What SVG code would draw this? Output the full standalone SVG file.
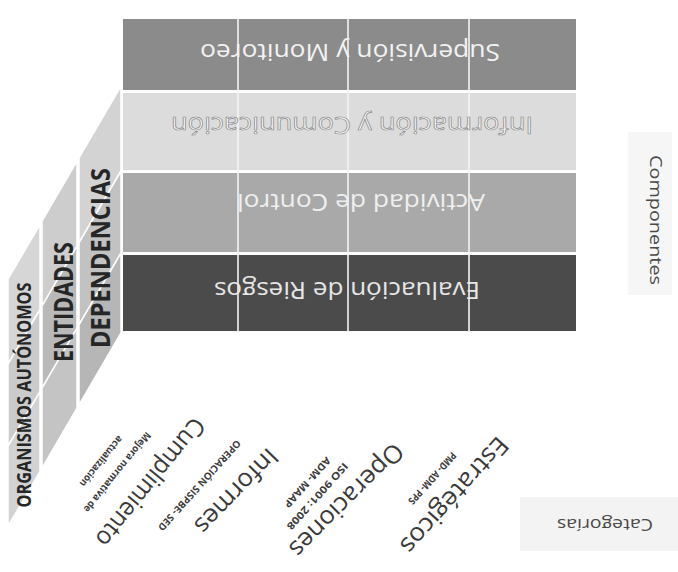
<svg xmlns="http://www.w3.org/2000/svg" width="678" height="572" viewBox="0 0 678 572">
<style>
.band{stroke:#ffffff;stroke-width:2}
.side{stroke:#ffffff;stroke-width:1.5}
.vline{stroke:#f4f4f4;stroke-width:1.6}
.comp{font-family:"Open Sans","Liberation Sans",sans-serif;font-size:24px;text-anchor:middle}
.ent{font-family:"Open Sans","Liberation Sans",sans-serif;font-weight:bold;text-anchor:middle;fill:#262626}
.cat{font-family:"Open Sans","Liberation Sans",sans-serif;font-size:25px;text-anchor:middle;fill:#3a3a3a}
.sub{font-family:"Open Sans","Liberation Sans",sans-serif;font-size:10px;font-weight:bold;text-anchor:middle;fill:#3c3c3c}
.axis{font-family:"Open Sans","Liberation Sans",sans-serif;font-size:16px;text-anchor:middle;fill:#4a4a4a}
</style>
<rect x="0" y="0" width="678" height="572" fill="#ffffff"/>

<g id="front-face">
  <rect class="band" x="122" y="18" width="455" height="73" fill="#8b8b8b"/>
  <rect class="band" x="122" y="92" width="455" height="79" fill="#dcdcdc"/>
  <rect class="band" x="122" y="172" width="455" height="81" fill="#a9a9a9"/>
  <rect class="band" x="122" y="254" width="455" height="78" fill="#4b4b4b"/>
  <line class="vline" x1="238" y1="18" x2="238" y2="332"/>
  <line class="vline" x1="348" y1="18" x2="348" y2="332"/>
  <line class="vline" x1="469" y1="18" x2="469" y2="332"/>
</g>

<g id="comp-supervision">
  <text class="comp" x="350" y="60" fill="#f2f2f2" transform="rotate(180 350 52)" textLength="300" lengthAdjust="spacingAndGlyphs">Supervisión y Monitoreo</text>
</g>
<g id="comp-informacion">
  <text class="comp" x="352" y="133" fill="#f7f7f7" stroke="#8a8a8a" stroke-width="0.7" transform="rotate(180 352 125)" textLength="362" lengthAdjust="spacingAndGlyphs">Información y Comunicación</text>
</g>
<g id="comp-actividad">
  <text class="comp" x="361" y="210" fill="#efefef" transform="rotate(180 361 202)" textLength="248" lengthAdjust="spacingAndGlyphs">Actividad de Control</text>
</g>
<g id="comp-evaluacion">
  <text class="comp" x="347" y="298" fill="#e6e6e6" transform="rotate(180 347 290)" textLength="266" lengthAdjust="spacingAndGlyphs">Evaluación de Riesgos</text>
</g>

<g id="side-face">
  <polygon class="side" fill="#d3d3d3" points="121,86 121,171 79,242.8 79,157.8"/>
  <polygon class="side" fill="#c2c2c2" points="121,171 121,253 79,324.8 79,242.8"/>
  <polygon class="side" fill="#b6b6b6" points="121,253 121,333 79,404.8 79,324.8"/>
  <polygon class="side" fill="#cdcdcd" points="77,161.2 77,246.2 42,306.1 42,221.1"/>
  <polygon class="side" fill="#b9b9b9" points="77,246.2 77,328.2 42,388.1 42,306.1"/>
  <polygon class="side" fill="#c4c4c4" points="77,328.2 77,408.2 42,468.1 42,388.1"/>
  <polygon class="side" fill="#d6d6d6" points="40,224.5 40,309.5 8,364.2 8,279.2"/>
  <polygon class="side" fill="#cbcbcb" points="40,309.5 40,391.5 8,446.2 8,364.2"/>
  <polygon class="side" fill="#d2d2d2" points="40,391.5 40,471.5 8,526.2 8,446.2"/>
</g>

<g id="nivel-dependencias">
  <text class="ent" font-size="27" transform="translate(100,258) rotate(-90)" y="10" textLength="180" lengthAdjust="spacingAndGlyphs">DEPENDENCIAS</text>
</g>
<g id="nivel-entidades">
  <text class="ent" font-size="27" transform="translate(63,302) rotate(-90)" y="10" textLength="120" lengthAdjust="spacingAndGlyphs">ENTIDADES</text>
</g>
<g id="nivel-organismos">
  <text class="ent" font-size="20" font-weight="600" fill="#333333" transform="translate(24,395) rotate(-90)" y="7" textLength="225" lengthAdjust="spacingAndGlyphs">ORGANISMOS AUTÓNOMOS</text>
</g>

<g id="cat-cumplimiento">
  <text class="cat" transform="translate(150,482) rotate(129)" y="8" textLength="158" lengthAdjust="spacingAndGlyphs">Cumplimiento</text>
  <text class="sub" transform="translate(117,472) rotate(129)" y="3" textLength="100" lengthAdjust="spacingAndGlyphs">Mejora normativa de</text>
  <text class="sub" transform="translate(101,461) rotate(129)" y="3" textLength="62" lengthAdjust="spacingAndGlyphs">actualización</text>
</g>
<g id="cat-informes">
  <text class="cat" transform="translate(236,491) rotate(134)" y="8" textLength="108" lengthAdjust="spacingAndGlyphs">Informes</text>
  <text class="sub" transform="translate(199,485) rotate(132)" y="3" textLength="118" lengthAdjust="spacingAndGlyphs">OPERACIÓN SISPBE- SED</text>
</g>
<g id="cat-operaciones">
  <text class="cat" transform="translate(346,500) rotate(135)" y="8" textLength="150" lengthAdjust="spacingAndGlyphs">Operaciones</text>
  <text class="sub" transform="translate(317,496) rotate(132)" y="3" textLength="86" lengthAdjust="spacingAndGlyphs">ISO 9001: 2008</text>
  <text class="sub" transform="translate(307,482) rotate(132)" y="3" textLength="64" lengthAdjust="spacingAndGlyphs">ADM- MAAP</text>
</g>
<g id="cat-estrategicos">
  <text class="cat" transform="translate(454,495) rotate(132)" y="8" textLength="148" lengthAdjust="spacingAndGlyphs">Estratégicos</text>
  <text class="sub" transform="translate(432,478) rotate(132)" y="3" textLength="66" lengthAdjust="spacingAndGlyphs">PMD- ADM- PPS</text>
</g>

<g id="eje-componentes">
  <rect x="628" y="132" width="44" height="163" fill="#f6f6f6"/>
  <text class="axis" transform="translate(656,220) rotate(90)" y="6" textLength="130" lengthAdjust="spacingAndGlyphs">Componentes</text>
</g>
<g id="eje-categorias">
  <rect x="520" y="497" width="158" height="54" fill="#f3f3f3"/>
  <text class="axis" transform="translate(605,525) rotate(180)" y="6" textLength="96" lengthAdjust="spacingAndGlyphs">Categorías</text>
</g>
</svg>
